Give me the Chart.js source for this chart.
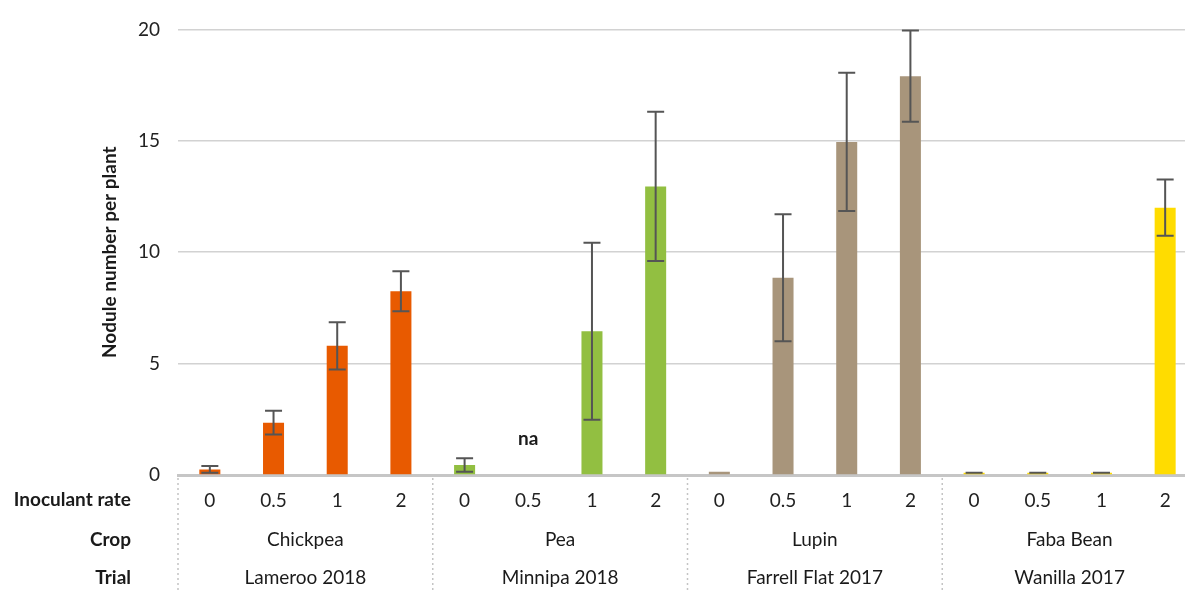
<!DOCTYPE html>
<html>
<head>
<meta charset="utf-8">
<script src="https://cdn.jsdelivr.net/npm/chart.js@4/dist/chart.umd.min.js"></script>
<style>
  html, body { margin: 0; padding: 0; background: #fff; overflow: hidden; }
  #wrap { width: 1200px; height: 593px; }
</style>
</head>
<body>
<div id="wrap"><canvas id="chart"></canvas></div>
<script>
const rates = ["0", "0.5", "1", "2"]
const crops = ["Chickpea", "Pea", "Lupin", "Faba Bean"]
const trials = ["Lameroo 2018", "Minnipa 2018", "Farrell Flat 2017", "Wanilla 2017"]
const cropColors = ["#E85A00", "#92BF41", "#A8957B", "#FFDC00"]

const chickpea = [0.25, 2.35, 5.8, 8.25]
const chickpeaErr = [0.15, 0.53, 1.06, 0.9]
const pea = [0.45, null, 6.45, 12.95]
const peaErr = [0.3, null, 3.97, 3.35]
const lupin = [0.15, 8.85, 14.95, 17.9]
const lupinErr = [null, 2.85, 3.1, 2.05]
const faba = [0.1, 0.1, 0.1, 12.0]
const fabaErr = [0, 0, 0, 1.26]

const yTicks = [0, 5, 10, 15, 20]
const naLabel = {index: 5, value: 1.6, text: "na"}

const labels = crops.flatMap(() => rates)
const values = [...chickpea, ...pea, ...lupin, ...faba]
const errors = [...chickpeaErr, ...peaErr, ...lupinErr, ...fabaErr]
const colors = cropColors.flatMap(c => rates.map(() => c))

const FONT = "Lato, 'Open Sans', sans-serif"

const extras = {
  id: "extras",
  afterDatasetsDraw(chart) {
    const {ctx, scales: {x, y}} = chart
    ctx.save()
    // error bars
    ctx.strokeStyle = "#555555"
    ctx.lineWidth = 2
    values.forEach((v, i) => {
      const e = errors[i]
      if (v == null || e == null) return
      const px = x.getPixelForValue(i)
      const top = y.getPixelForValue(v + e)
      const bot = y.getPixelForValue(v - e)
      ctx.beginPath()
      ctx.moveTo(px, top); ctx.lineTo(px, bot)
      ctx.moveTo(px - 8.5, top); ctx.lineTo(px + 8.5, top)
      ctx.moveTo(px - 8.5, bot); ctx.lineTo(px + 8.5, bot)
      ctx.stroke()
    })
    // na label
    ctx.fillStyle = "#1a1a1a"
    ctx.font = "bold 19px " + FONT
    ctx.textAlign = "center"
    ctx.textBaseline = "middle"
    ctx.fillText(naLabel.text, x.getPixelForValue(naLabel.index), y.getPixelForValue(naLabel.value))
    ctx.restore()
  },
  afterDraw(chart) {
    const {ctx, scales: {x}, chartArea} = chart
    const step = x.getPixelForValue(1) - x.getPixelForValue(0)
    ctx.save()
    // group separators
    ctx.strokeStyle = "#c4c4c4"
    ctx.lineWidth = 1.5
    ctx.setLineDash([2, 3])
    for (let g = 0; g <= crops.length; g++) {
      const px = x.getPixelForValue(g * rates.length) - step / 2
      ctx.beginPath()
      ctx.moveTo(px, chartArea.bottom + 3)
      ctx.lineTo(px, chart.height)
      ctx.stroke()
    }
    ctx.setLineDash([])
    // group labels
    ctx.fillStyle = "#1a1a1a"
    ctx.textAlign = "center"
    ctx.textBaseline = "middle"
    ctx.font = "19px " + FONT
    crops.forEach((c, g) => {
      const cx = (x.getPixelForValue(g * 4) + x.getPixelForValue(g * 4 + 3)) / 2
      ctx.fillText(c, cx, 540)
      ctx.fillText(trials[g], cx, 578)
    })
    // row labels
    ctx.textAlign = "right"
    ctx.font = "bold 19px " + FONT
    ctx.fillText("Inoculant rate", 131, 500)
    ctx.fillText("Crop", 131, 540)
    ctx.fillText("Trial", 131, 578)
    ctx.restore()
  }
}

new Chart(document.getElementById("chart"), {
  type: "bar",
  data: {
    labels: labels,
    datasets: [{
      data: values,
      backgroundColor: colors,
      borderWidth: 0,
      categoryPercentage: 1,
      barPercentage: 0.33,
    }],
  },
  options: {
    responsive: true,
    maintainAspectRatio: false,
    animation: false,
    layout: {padding: {top: 28, right: 3, left: 0, bottom: 0}},
    plugins: {legend: {display: false}, tooltip: {enabled: false}},
    scales: {
      x: {
        afterFit: s => { s.height = 118 },
        grid: {display: false, drawTicks: false},
        border: {display: true, color: "#c6c6c6", width: 3},
        ticks: {color: "#222", font: {family: FONT, size: 19}, padding: 14, maxRotation: 0, autoSkip: false},
      },
      y: {
        min: 0,
        max: 20,
        afterFit: s => { s.width = 178 },
        afterBuildTicks: s => { s.ticks = yTicks.map(v => ({value: v})) },
        grid: {color: c => c.tick.value === 0 ? "rgba(0,0,0,0)" : "#d2d2d2", lineWidth: 1.5, drawTicks: false},
        border: {display: false},
        ticks: {color: "#222", font: {family: FONT, size: 19}, padding: 18},
        title: {
          display: true,
          text: "Nodule number per plant",
          color: "#1a1a1a",
          font: {family: FONT, size: 19, weight: "bold"},
          padding: {top: 98, bottom: 0},
        },
      },
    },
  },
  plugins: [extras],
})
</script>
</body>
</html>
